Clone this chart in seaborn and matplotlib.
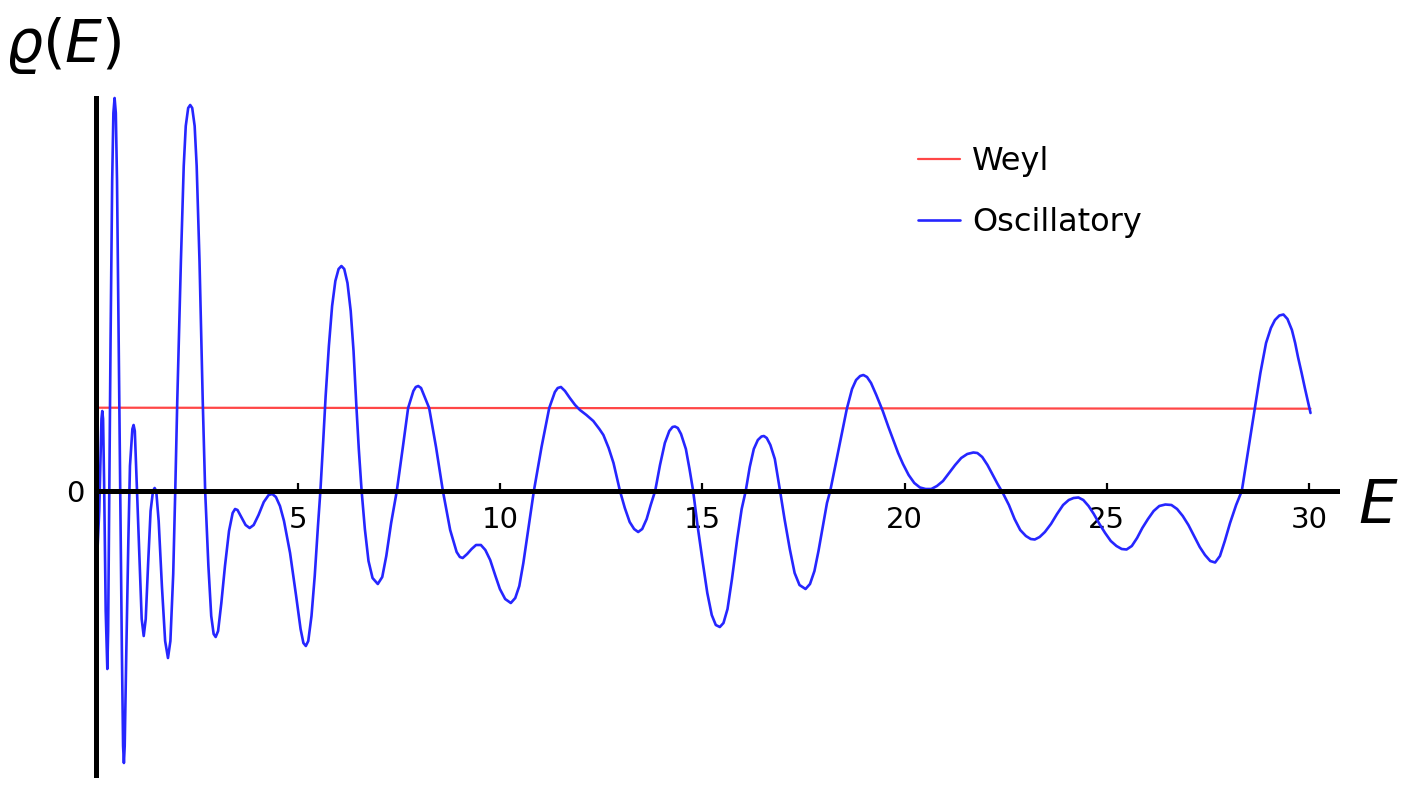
import matplotlib
matplotlib.use("Agg")
import pandas as pd
import matplotlib.pyplot as plt
import seaborn as sns

# oscillatory part of the level density
E_osc = [0.04, 0.08, 0.11, 0.135, 0.155, 0.175, 0.20, 0.24, 0.28, 0.30, 0.33, 0.36, 0.40, 0.43,
         0.46, 0.49, 0.52, 0.56, 0.60, 0.64, 0.67, 0.69, 0.71, 0.75, 0.80, 0.84, 0.90, 0.93,
         0.96, 1.01, 1.08, 1.13, 1.18, 1.23, 1.29, 1.35, 1.41, 1.45, 1.49, 1.55, 1.63, 1.71,
         1.78, 1.84, 1.91, 1.96, 2.01, 2.10, 2.17, 2.22, 2.28, 2.33, 2.38, 2.44, 2.49, 2.56,
         2.64, 2.70, 2.78, 2.85, 2.91, 2.96, 3.02, 3.10, 3.19, 3.29, 3.38, 3.44, 3.50, 3.58,
         3.70, 3.80, 3.90, 4.02, 4.15, 4.27, 4.36, 4.45, 4.55, 4.65, 4.80, 4.95, 5.06, 5.13,
         5.19, 5.25, 5.33, 5.41, 5.49, 5.55, 5.62, 5.68, 5.76, 5.84, 5.92, 6.00, 6.07, 6.14,
         6.22, 6.30, 6.37, 6.44, 6.50, 6.57, 6.65, 6.74, 6.84, 6.97, 7.08, 7.18, 7.30, 7.44,
         7.59, 7.72, 7.85, 7.91, 7.97, 8.04, 8.11, 8.24, 8.41, 8.58, 8.76, 8.92, 9.00, 9.07,
         9.18, 9.29, 9.40, 9.52, 9.63, 9.75, 9.88, 9.99, 10.12, 10.26, 10.37, 10.47, 10.57, 10.70,
         10.83, 11.02, 11.21, 11.35, 11.42, 11.50, 11.60, 11.72, 11.85, 11.97, 12.13, 12.30, 12.45, 12.55,
         12.68, 12.80, 12.96, 13.08, 13.20, 13.31, 13.41, 13.51, 13.62, 13.72, 13.83, 13.95, 14.07, 14.18,
         14.26, 14.32, 14.39, 14.47, 14.59, 14.68, 14.77, 14.88, 15.01, 15.12, 15.23, 15.33, 15.43, 15.52,
         15.62, 15.73, 15.86, 15.97, 16.07, 16.17, 16.27, 16.37, 16.46, 16.52, 16.59, 16.68, 16.79, 16.92,
         17.03, 17.16, 17.28, 17.40, 17.55, 17.66, 17.77, 17.87, 17.98, 18.08, 18.16, 18.30, 18.42, 18.57,
         18.70, 18.80, 18.90, 18.98, 19.07, 19.17, 19.30, 19.46, 19.60, 19.72, 19.84, 19.96, 20.10, 20.24,
         20.38, 20.52, 20.66, 20.80, 20.95, 21.10, 21.25, 21.40, 21.55, 21.70, 21.80, 21.92, 22.05, 22.18,
         22.30, 22.43, 22.58, 22.72, 22.86, 23.00, 23.12, 23.22, 23.34, 23.47, 23.62, 23.77, 23.92, 24.06,
         24.18, 24.30, 24.42, 24.55, 24.68, 24.82, 24.96, 25.10, 25.24, 25.37, 25.49, 25.62, 25.75, 25.88,
         26.02, 26.16, 26.30, 26.45, 26.60, 26.74, 26.88, 27.02, 27.16, 27.30, 27.43, 27.56, 27.68, 27.80,
         27.92, 28.05, 28.20, 28.34, 28.50, 28.66, 28.80, 28.94, 29.06, 29.16, 29.27, 29.37, 29.47, 29.58,
         29.66, 29.73, 29.82, 29.90, 30.04]
rho_osc = [-0.56, -0.20, 0.30, 0.72, 0.80, 0.72, 0.10, -1.20, -1.78, -1.40, 0.00, 1.50, 3.10, 3.78,
           3.93, 3.78, 3.10, 1.50, 0.00, -1.60, -2.55, -2.72, -2.55, -1.60, -0.50, 0.25, 0.62, 0.66,
           0.60, 0.05, -0.72, -1.28, -1.45, -1.28, -0.72, -0.20, 0.00, 0.03, 0.00, -0.30, -0.95, -1.50,
           -1.67, -1.50, -0.83, 0.00, 0.90, 2.30, 3.25, 3.65, 3.83, 3.86, 3.83, 3.65, 3.25, 2.30,
           0.90, 0.00, -0.75, -1.25, -1.43, -1.46, -1.40, -1.12, -0.75, -0.40, -0.22, -0.18, -0.19, -0.25,
           -0.34, -0.37, -0.34, -0.24, -0.11, -0.04, -0.03, -0.06, -0.15, -0.30, -0.62, -1.05, -1.38, -1.52,
           -1.55, -1.50, -1.25, -0.85, -0.35, 0.00, 0.50, 0.95, 1.45, 1.85, 2.10, 2.22, 2.25, 2.22,
           2.08, 1.80, 1.40, 0.85, 0.42, 0.00, -0.38, -0.70, -0.87, -0.93, -0.86, -0.65, -0.32, 0.00,
           0.44, 0.83, 1.00, 1.04, 1.05, 1.03, 0.96, 0.83, 0.44, 0.00, -0.39, -0.61, -0.66, -0.67,
           -0.63, -0.58, -0.54, -0.54, -0.59, -0.69, -0.85, -0.98, -1.08, -1.12, -1.07, -0.95, -0.72, -0.36,
           0.00, 0.44, 0.83, 0.99, 1.03, 1.04, 1.00, 0.93, 0.86, 0.81, 0.76, 0.70, 0.62, 0.56,
           0.43, 0.28, 0.00, -0.17, -0.31, -0.38, -0.41, -0.38, -0.28, -0.14, 0.00, 0.26, 0.48, 0.60,
           0.64, 0.645, 0.63, 0.57, 0.42, 0.22, 0.00, -0.35, -0.72, -1.02, -1.24, -1.34, -1.36, -1.32,
           -1.18, -0.88, -0.48, -0.18, 0.00, 0.24, 0.42, 0.51, 0.545, 0.55, 0.53, 0.46, 0.32, 0.00,
           -0.28, -0.58, -0.82, -0.94, -0.98, -0.93, -0.80, -0.60, -0.35, -0.12, 0.00, 0.28, 0.52, 0.82,
           1.02, 1.11, 1.15, 1.16, 1.14, 1.08, 0.96, 0.80, 0.64, 0.51, 0.38, 0.27, 0.16, 0.08,
           0.035, 0.02, 0.02, 0.05, 0.10, 0.18, 0.26, 0.33, 0.37, 0.385, 0.38, 0.34, 0.26, 0.16,
           0.07, -0.02, -0.14, -0.28, -0.39, -0.45, -0.48, -0.485, -0.46, -0.41, -0.33, -0.23, -0.14, -0.09,
           -0.07, -0.065, -0.09, -0.15, -0.23, -0.33, -0.42, -0.50, -0.55, -0.58, -0.585, -0.55, -0.47, -0.37,
           -0.28, -0.20, -0.15, -0.135, -0.14, -0.18, -0.25, -0.34, -0.45, -0.56, -0.64, -0.70, -0.715, -0.65,
           -0.50, -0.32, -0.14, 0.00, 0.41, 0.82, 1.18, 1.48, 1.63, 1.71, 1.755, 1.765, 1.72, 1.61,
           1.48, 1.34, 1.18, 1.03, 0.78]

# smooth (Weyl) part, almost flat
E_weyl = [0.04, 15.0, 30.04]
rho_weyl = [0.833, 0.828, 0.823]

x_ticks = [5, 10, 15, 20, 25, 30]

sns.set_theme(style="white")
plt.rcParams['font.family'] = ['DejaVu Sans']
plt.rcParams['mathtext.fontset'] = 'dejavusans'

W, H = 1404, 789
px_per_E = 40.43
fig = plt.figure(figsize=(W / 100, H / 100), dpi=100)
# axes box: y axis at px 96, x axis at py 491, plot spans py 98..775
ax = fig.add_axes([96 / W, (H - 775) / H, (1337 - 96) / W, (775 - 98) / H])

df_osc = pd.DataFrame({'E': E_osc, 'rho': rho_osc})
df_weyl = pd.DataFrame({'E': E_weyl, 'rho': rho_weyl})

sns.lineplot(data=df_weyl, x='E', y='rho', ax=ax, color='#ff4646', linewidth=1.6,
             label='Weyl', sort=False, estimator=None)
sns.lineplot(data=df_osc, x='E', y='rho', ax=ax, color='#2626ff', linewidth=1.9,
             label='Oscillatory', sort=False, estimator=None)
for ln in ax.lines:
    ln.set_clip_on(False)
    ln.set_solid_joinstyle('round')

ax.set_xlim(0, (1337 - 96) / px_per_E)
ax.set_ylim((491 - 775) / 100, (491 - 98) / 100)

# axes crossing at the origin, Mathematica style
for side in ['top', 'right']:
    ax.spines[side].set_visible(False)
for side in ['left', 'bottom']:
    ax.spines[side].set_position(('data', 0))
    ax.spines[side].set_color('black')
    ax.spines[side].set_linewidth(3.6)
    ax.spines[side].set_zorder(5)

ax.set_xticks(x_ticks)
ax.set_xticklabels([str(t) for t in x_ticks])
ax.set_yticks([0])
ax.set_yticklabels(['0'])
ax.tick_params(axis='x', direction='in', length=5.5, width=1.6, color='black',
               pad=11, labelsize=21, labelcolor='black', bottom=True)
ax.tick_params(axis='y', length=0, pad=8, labelsize=21, labelcolor='black', left=True)
ax.set_xlabel('')
ax.set_ylabel('')

leg = ax.legend(loc='upper left', bbox_to_anchor=(918 / W, 1 - 146 / H), bbox_transform=fig.transFigure,
                frameon=False, fontsize=23, handlelength=1.3, handletextpad=0.4,
                labelspacing=0.94, borderpad=0, borderaxespad=0)
for t in leg.get_texts():
    t.set_color('black')

fig.text(5 / W, 1 - 62 / H, r'$\varrho(E)$', fontsize=42, ha='left', va='baseline', color='black')
fig.text(1358 / W, 1 - 523 / H, r'$E$', fontsize=44, ha='left', va='baseline', color='black')

fig.savefig('out.png', dpi=100)
